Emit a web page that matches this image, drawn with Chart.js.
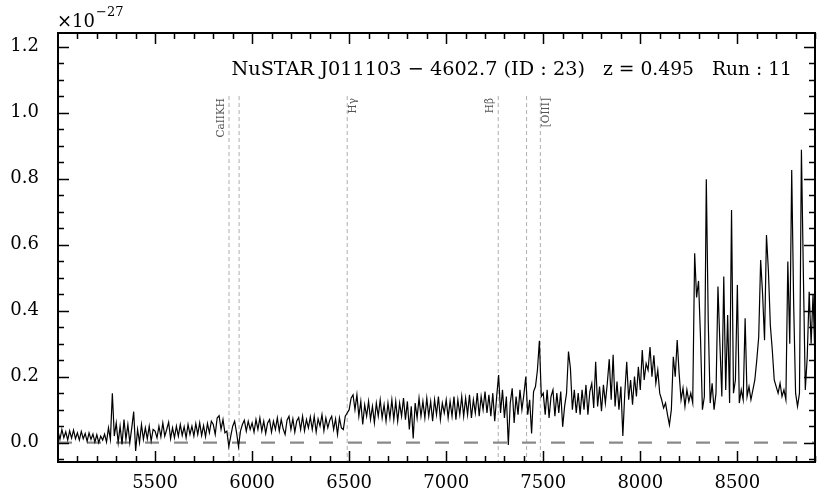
<!DOCTYPE html>
<html lang="en">
<head>
<meta charset="UTF-8">
<title>NuSTAR J011103-4602.7 spectrum</title>
<script src="https://cdn.jsdelivr.net/npm/chart.js"></script>
<style>
  html, body { margin: 0; padding: 0; background: #fff; }
</style>
</head>
<body>
<canvas id="spectrum" width="830" height="498"></canvas>
<script>
// wavelength grid (Angstrom) and flux (x 1e-27)
const waveStart = 5000;
const waveStep = 10;
const flux = [
  0.035, 0.01, 0.04, 0.015, 0.033, 0.008, 0.036, 0.014, 0.038, 0.012,
  0.03, 0.008, 0.034, 0.012, 0.028, 0.004, 0.03, 0.01, 0.026, 0.002,
  0.024, 0.0, 0.02, 0.008, 0.026, 0.002, 0.045, 0.01, 0.15, 0.02,
  0.06, 0.0, 0.05, -0.005, 0.07, 0.01, 0.055, 0.0, 0.045, 0.094,
  -0.025, 0.04, 0.0, 0.055, 0.01, 0.045, 0.012, 0.05, 0.005, 0.04,
  0.035, 0.015, 0.05, 0.018, 0.06, 0.02, 0.04, 0.062, 0.012, 0.045,
  0.015, 0.05, 0.02, 0.055, 0.022, 0.048, 0.015, 0.055, 0.025, 0.05,
  0.02, 0.058, 0.025, 0.06, 0.022, 0.052, 0.018, 0.058, 0.03, 0.065,
  0.055, 0.025, 0.075, 0.082, 0.04, 0.07, 0.03, 0.035, -0.012, 0.02,
  0.05, 0.065, 0.03, -0.012, 0.035, 0.055, 0.068, 0.035, 0.065, 0.04,
  0.06, 0.032, 0.07, 0.04, 0.075, 0.035, 0.065, 0.028, 0.06, 0.07,
  0.032, 0.065, 0.04, 0.075, 0.035, 0.07, 0.042, 0.025, 0.068, 0.08,
  0.04, 0.072, 0.032, 0.066, 0.076, 0.04, 0.08, 0.036, 0.07, 0.045,
  0.078, 0.04, 0.08, 0.032, 0.072, 0.05, 0.085, 0.036, 0.075, 0.045,
  0.068, 0.08, 0.04, 0.072, 0.025, 0.075, 0.045, 0.04, 0.08, 0.09,
  0.1, 0.135, 0.145, 0.1, 0.145, 0.08, 0.125, 0.055, 0.115, 0.08,
  0.125, 0.07, 0.11, 0.06, 0.12, 0.08, 0.13, 0.075, 0.115, 0.065,
  0.12, 0.075, 0.13, 0.07, 0.125, 0.065, 0.12, 0.08, 0.135, 0.07,
  0.125, 0.04, 0.11, 0.013, 0.12, 0.075, 0.135, 0.08, 0.125, 0.075,
  0.135, 0.08, 0.125, 0.065, 0.13, 0.085, 0.14, 0.07, 0.12, 0.09,
  0.13, 0.075, 0.125, 0.08, 0.14, 0.07, 0.13, 0.085, 0.14, 0.08,
  0.135, 0.085, 0.145, 0.075, 0.13, 0.09, 0.15, 0.08, 0.14, 0.1,
  0.155, 0.09, 0.145, 0.08, 0.15, 0.065, 0.14, 0.205, 0.09, 0.16,
  0.075, 0.14, -0.007, 0.12, 0.165, 0.06, 0.14, 0.085, 0.16, 0.1,
  0.145, 0.2, 0.085, 0.13, 0.028, 0.155, 0.17, 0.22, 0.309, 0.14,
  0.15, 0.085, 0.16, 0.075, 0.14, 0.16, 0.08, 0.15, 0.09, 0.155,
  0.048, 0.11, 0.15, 0.276, 0.225, 0.1, 0.16, 0.09, 0.15, 0.085,
  0.16, 0.1, 0.175, 0.085, 0.155, 0.18, 0.105, 0.245, 0.11, 0.17,
  0.095, 0.175, 0.12, 0.18, 0.253, 0.13, 0.266, 0.11, 0.185, 0.1,
  0.17, 0.02, 0.15, 0.245, 0.13, 0.19, 0.115, 0.2, 0.14, 0.23,
  0.16, 0.281, 0.19, 0.24, 0.22, 0.29, 0.2, 0.265, 0.18, 0.22,
  0.15, 0.13, 0.105, 0.12, 0.085, 0.054, 0.1, 0.26, 0.2, 0.311,
  0.21, 0.13, 0.165, 0.11, 0.16, 0.125, 0.15, 0.12, 0.574, 0.44,
  0.49, 0.32, 0.1, 0.14, 0.798, 0.367, 0.12, 0.18, 0.1, 0.15,
  0.473, 0.3, 0.14, 0.503, 0.16, 0.387, 0.12, 0.705, 0.15, 0.19,
  0.478, 0.12, 0.16, 0.13, 0.377, 0.14, 0.17, 0.13, 0.16, 0.19,
  0.25, 0.32, 0.553, 0.45, 0.31, 0.629, 0.52, 0.355, 0.28, 0.19,
  0.17, 0.15, 0.18, 0.14, 0.16, 0.13, 0.549, 0.3, 0.826, 0.422,
  0.15, 0.11, 0.15, 0.887, 0.513, 0.16, 0.26, 0.457, 0.3, 0.45,
  0.25
];

// redshifted line positions (z = 0.495) and their labels
const lineWaves  = [5881, 5933, 6490, 7268, 7414, 7485];
const lineLabels = ['CaIIKH', '', 'H\u03b3', 'H\u03b2', '', '[OIII]'];

// axes
const xRange = [5000, 8900];
const yRange = [-0.0585, 1.241];
const xMajor = [5500, 6000, 6500, 7000, 7500, 8000, 8500];
const yMajor = [0.0, 0.2, 0.4, 0.6, 0.8, 1.0, 1.2];

const titleParts = ['NuSTAR J011103 \u2212 4602.7 (ID : 23)', 'z = 0.495', 'Run : 11'];

const SERIF = "'DejaVu Serif', serif";
Chart.defaults.font.family = SERIF;

const specPoints = flux.map((f, i) => ({ x: waveStart + i * waveStep, y: f }));

const xMinor = [];
for (let w = xRange[0] + 100; w <= xRange[1]; w += 100) {
  if (w % 500 !== 0) xMinor.push(w);
}
const yMinor = [];
for (let k = -1; k <= 24; k++) {
  if (k % 4 !== 0) yMinor.push(k * 0.05);
}

const lineSets = lineWaves.map(w => ({
  data: [{ x: w, y: 1.05 }, { x: w, y: yRange[0] }],
  borderColor: '#adadad',
  borderWidth: 1,
  borderDash: [4, 3],
  pointRadius: 0,
  order: 2
}));

// inward ticks, frame, title and line labels
const decorations = {
  id: 'decorations',
  afterDraw(chart) {
    const ctx = chart.ctx;
    const a = chart.chartArea;
    const xs = chart.scales.x, ys = chart.scales.y;
    ctx.save();
    ctx.strokeStyle = '#000';
    ctx.lineWidth = 1.5;
    const tickX = (vals, len) => vals.forEach(v => {
      const p = Math.round(xs.getPixelForValue(v)) + 0.5;
      ctx.beginPath();
      ctx.moveTo(p, a.bottom); ctx.lineTo(p, a.bottom - len);
      ctx.moveTo(p, a.top); ctx.lineTo(p, a.top + len);
      ctx.stroke();
    });
    const tickY = (vals, len) => vals.forEach(v => {
      const p = Math.round(ys.getPixelForValue(v)) + 0.5;
      ctx.beginPath();
      ctx.moveTo(a.left, p); ctx.lineTo(a.left + len, p);
      ctx.moveTo(a.right, p); ctx.lineTo(a.right - len, p);
      ctx.stroke();
    });
    tickX(xMajor, 11); tickX(xMinor, 6);
    tickY(yMajor, 11); tickY(yMinor, 6);
    ctx.lineWidth = 2;
    ctx.strokeRect(a.left, a.top, a.right - a.left, a.bottom - a.top);

    // line labels, rotated
    ctx.fillStyle = '#555';
    ctx.font = '10.5px ' + SERIF;
    ctx.textAlign = 'right';
    ctx.textBaseline = 'alphabetic';
    const yTop = 98;
    lineWaves.forEach((w, i) => {
      if (!lineLabels[i]) return;
      const px = xs.getPixelForValue(w);
      const right = (lineLabels[i] === 'H\u03b3' || lineLabels[i] === '[OIII]');
      ctx.save();
      ctx.translate(right ? px + 9 : px - 5, yTop);
      ctx.rotate(-Math.PI / 2);
      ctx.fillText(lineLabels[i], 0, 0);
      ctx.restore();
    });

    // title
    ctx.fillStyle = '#000';
    ctx.font = '19.3px ' + SERIF;
    ctx.textAlign = 'right';
    ctx.fillText(titleParts[0], 585, 75, 355);
    ctx.textAlign = 'left';
    ctx.fillText(titleParts[1], 603, 75, 91);
    ctx.textAlign = 'right';
    ctx.fillText(titleParts[2], 792, 75, 80);

    // offset text
    ctx.textAlign = 'left';
    ctx.font = '18px ' + SERIF;
    ctx.fillText('\u00d710', 57, 27);
    const w10 = ctx.measureText('\u00d710').width;
    ctx.font = '13px ' + SERIF;
    ctx.fillText('\u221227', 57 + w10 + 1, 16);
    ctx.restore();
  }
};

new Chart(document.getElementById('spectrum'), {
  type: 'line',
  data: {
    datasets: [
      {
        data: specPoints,
        borderColor: '#000',
        borderWidth: 1.2,
        pointRadius: 0,
        tension: 0,
        order: 0
      },
      {
        data: [{ x: xRange[0], y: 0 }, { x: xRange[1], y: 0 }],
        borderColor: '#8a8a8a',
        borderWidth: 2.3,
        borderDash: [14, 15],
        pointRadius: 0,
        order: 1
      },
      ...lineSets
    ]
  },
  options: {
    responsive: false,
    animation: false,
    layout: { padding: { left: 0, top: 33, right: 15, bottom: 0 } },
    plugins: { legend: { display: false }, tooltip: { enabled: false } },
    scales: {
      x: {
        type: 'linear',
        min: xRange[0],
        max: xRange[1],
        afterBuildTicks: s => { s.ticks = xMajor.map(v => ({ value: v })); },
        afterFit: s => { s.height = 36; },
        grid: { display: false },
        border: { display: false },
        ticks: {
          autoSkip: false, maxRotation: 0, padding: 3,
          color: '#000', font: { size: 18 },
          callback: v => String(v)
        }
      },
      y: {
        min: yRange[0],
        max: yRange[1],
        afterBuildTicks: s => { s.ticks = yMajor.map(v => ({ value: v })); },
        afterFit: s => { s.width = 58; },
        grid: { display: false },
        border: { display: false },
        ticks: {
          padding: 11,
          color: '#000', font: { size: 18 },
          callback: v => v.toFixed(1)
        }
      }
    }
  },
  plugins: [decorations]
});
</script>
</body>
</html>
